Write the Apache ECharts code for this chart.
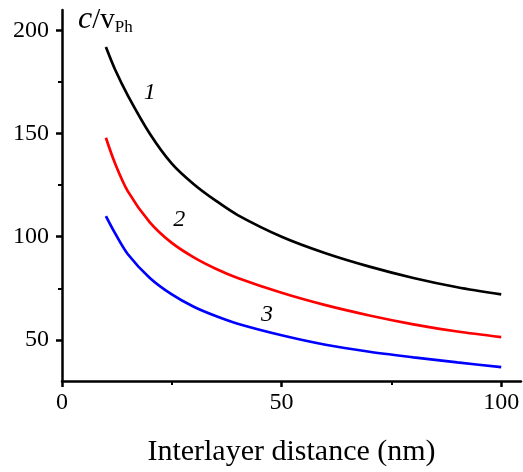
<!DOCTYPE html>
<html>
<head>
<meta charset="utf-8">
<script src="https://cdn.jsdelivr.net/npm/echarts@6/dist/echarts.min.js"></script>
<style>html,body{margin:0;padding:0;background:#fff;}#c{width:523px;height:472px;}</style>
</head>
<body>
<div id="c"></div>
<script>
const distance = [10, 12, 15, 20, 25, 30, 35, 40, 50, 60, 70, 80, 90, 100];
const curve1 = [192, 181.5, 168.5, 150, 135.5, 125.5, 117.5, 110.5, 100, 92, 85.5, 80, 75.5, 72];
const curve2 = [148, 136, 122, 107, 97, 90, 84.5, 80, 72.8, 66.8, 61.8, 57.5, 54, 51.3];
const curve3 = [110, 102, 91.5, 80, 72, 66, 61.5, 57.8, 52.2, 47.6, 44.2, 41.5, 39, 36.7];
const xTicks = [0, 50, 100];
const xMinorTicks = [25, 75];
const yTicks = [50, 100, 150, 200];
const yMinorTicks = [75, 125, 175];
const curveLabels = [["1", 20.0, 170], ["2", 26.7, 108.3], ["3", 46.7, 62.1]];
const xTitle = "Interlayer distance (nm)";

const font = "'Liberation Serif', 'Times New Roman', serif";
const chart = echarts.init(document.getElementById('c'), null, {renderer: 'canvas'});
const pair = (xs, ys) => xs.map((x, i) => [x, ys[i]]);
const axisBase = {
  type: 'value', splitLine: {show: false},
  axisLine: {show: true, lineStyle: {color: '#000', width: 2.5}}
};
const lineSeries = (ys, color) => ({
  type: 'line', data: pair(distance, ys), smooth: 0.3,
  showSymbol: false, silent: true, lineStyle: {color: color, width: 2.7}
});
chart.setOption({
  animation: false,
  grid: {left: 62, right: 2, top: 10, bottom: 91},
  xAxis: [
    Object.assign({}, axisBase, {
      min: 0, max: 104.5,
      axisTick: {show: true, length: 6, lineStyle: {width: 2.5, color: '#000'}, customValues: xTicks},
      axisLabel: {customValues: xTicks, color: '#000', fontFamily: font, fontSize: 24, margin: 10},
      name: xTitle, nameLocation: 'middle', nameGap: 56,
      nameTextStyle: {color: '#000', fontFamily: font, fontSize: 30}
    }),
    Object.assign({}, axisBase, {
      min: 0, max: 104.5, position: 'bottom',
      axisLine: {show: false},
      axisTick: {show: true, length: 4, lineStyle: {width: 2, color: '#000'}, customValues: xMinorTicks},
      axisLabel: {show: false}
    })
  ],
  yAxis: [
    Object.assign({}, axisBase, {
      min: 30, max: 210,
      axisTick: {show: true, length: 6, lineStyle: {width: 2.5, color: '#000'}, customValues: yTicks},
      axisLabel: {customValues: yTicks, color: '#000', fontFamily: font, fontSize: 24, margin: 13}
    }),
    Object.assign({}, axisBase, {
      min: 30, max: 210, position: 'left',
      axisLine: {show: false},
      axisTick: {show: true, length: 4, lineStyle: {width: 2, color: '#000'}, customValues: yMinorTicks},
      axisLabel: {show: false}
    })
  ],
  series: [
    lineSeries(curve1, '#000000'),
    lineSeries(curve2, '#ff0000'),
    lineSeries(curve3, '#0000ff'),
    {type: 'scatter', symbolSize: 1, silent: true, itemStyle: {opacity: 0},
      data: curveLabels.map(d => ({value: [d[1], d[2]], name: d[0]})),
      label: {show: true, position: 'inside', formatter: p => p.name, color: '#000', opacity: 1,
        textBorderWidth: 0, fontFamily: font, fontStyle: 'italic', fontSize: 24}}
  ],
  graphic: [{
    type: 'text', left: 78, top: 4,
    style: {
      text: '{i|c}{n|/v}{s|Ph}',
      rich: {
        i: {fontFamily: font, fontStyle: 'italic', fontSize: 32, fill: '#000'},
        n: {fontFamily: font, fontSize: 29, fill: '#000'},
        s: {fontFamily: font, fontSize: 17, fill: '#000', verticalAlign: 'bottom', padding: [12, 0, 0, 0]}
      }
    }
  }]
});
</script>
</body>
</html>
